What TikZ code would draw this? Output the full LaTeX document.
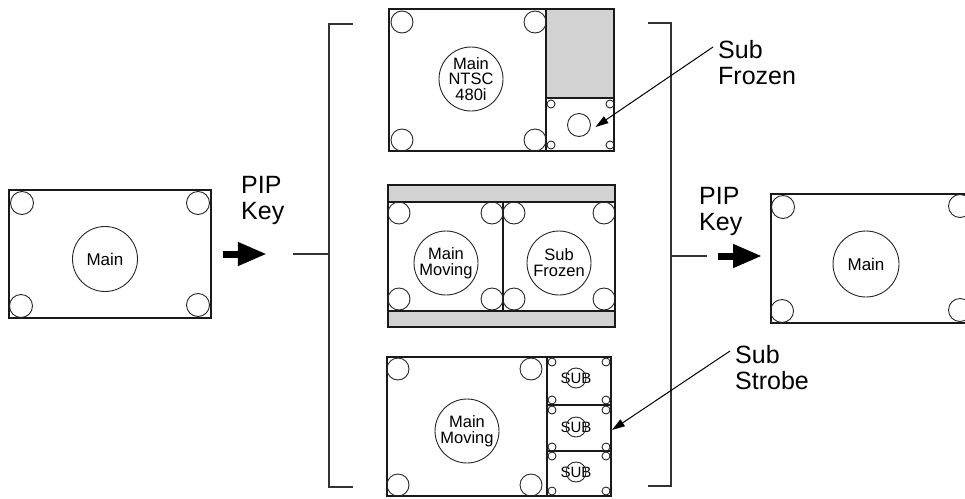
\documentclass[tikz,border=0pt]{standalone}
\usepackage{fontspec}
\setmainfont{Liberation Sans}
\usetikzlibrary{arrows.meta, positioning}

\tikzset{
  frame/.style={draw=black!90, line width=1.8pt},
  eye/.style={draw=black!85, line width=0.9pt},
  band/.style={frame, fill=gray!35},
  screen/.style={frame, minimum width=202pt, minimum height=128pt, inner sep=0pt},
  rowbox/.style={frame, minimum width=64pt, inner sep=0pt},
  disc/.style={circle, draw=black!85, line width=0.9pt, inner sep=0pt, minimum size=64pt,
    align=center, font=\fontsize{16.5}{16}\selectfont},
  keyarrow/.style={line width=7pt, -{Triangle[length=29pt, width=22pt]}},
  pointer/.style={line width=1pt, -{Triangle[length=13pt, width=8pt]}},
  bracket/.style={draw=black!80, line width=1.3pt},
  callout/.style={inner sep=0pt, anchor=north west, align=left, font=\fontsize{25}{26}\selectfont},
  subtag/.style={inner sep=0pt, font=\fontsize{15}{15}\selectfont},
}

\begin{document}
\begin{tikzpicture}[x=1pt, y=-1pt]
  \useasboundingbox (0,0) rectangle (965,498);
  % left screen
  \node[screen] (scrL) at (110,254) {};
  \foreach \cx/\cy in {22/203, 198/203, 21/306, 198/305}
    \draw[eye] (\cx,\cy) circle (11.5);
  \node[disc, minimum size=65pt, font=\fontsize{17}{17}\selectfont] (mainL) at (105,259) {Main};
  \node[callout] (keyL) at (241,176) {PIP\\Key};
  \draw[keyarrow] ([xshift=11pt]scrL.east) -- ([xshift=55pt]scrL.east);
  % left bracket
  \draw[bracket] (353,24) -- (329,24) -- (329,487) -- (353,487);
  \draw[bracket] (293,254) -- (329,254);

  % top panel: NTSC main, frozen sub
  \draw[band] (546,9) rectangle (614,98);
  \draw[frame] (389,9) rectangle (614,151);
  \draw[frame] (546,9) -- (546,151);
  \draw[frame] (546,98) -- (614,98);
  \foreach \cx/\cy in {402/22, 535/22, 402/140, 535/140}
    \draw[eye] (\cx,\cy) circle (11);
  \node[disc, font=\fontsize{16.5}{15.5}\selectfont] (ntsc) at (471,79) {Main\\NTSC\\480i};
  \foreach \cx/\cy in {551/104, 610/104, 551/145, 610/145}
    \draw[eye] (\cx,\cy) circle (4);
  \node[circle, eye, minimum size=23pt, inner sep=0pt] (frzsub) at (579,125) {};

  % middle panel: side by side
  \draw[band] (388,185) rectangle (615,202);
  \draw[band] (388,311) rectangle (615,327);
  \draw[frame] (388,185) rectangle (615,327);
  \draw[frame] (503,202) -- (503,311);
  \foreach \cx/\cy in {399/213, 492/213, 399/299, 492/299, 514/213, 604/213, 514/299, 604/299}
    \draw[eye] (\cx,\cy) circle (11);
  \node[disc] (moveA) at (446,263) {Main\\Moving};
  \node[disc] (frzB) at (559,263) {Sub\\Frozen};

  % bottom panel: strobe
  \draw[frame] (387,357) rectangle (547,496);
  \foreach \n/\cy/\h in {1/381/48, 2/428/46, 3/473.5/45}
    \node[rowbox, minimum height=\h] (row\n) at (579,\cy) {};
  \foreach \cy in {362, 400, 410, 447, 456, 491}
    \foreach \cx in {552, 606}
      \draw[eye] (\cx,\cy) circle (4);
  \foreach \n/\cy in {1/378, 2/427, 3/472}{
    \node[subtag] (sub\n) at (576,\cy) {SUB};
    \draw[eye] (sub\n.center) circle (10);
  }
  \foreach \cx/\cy in {398/369, 531/369, 398/485, 531/485}
    \draw[eye] (\cx,\cy) circle (11);
  \node[disc] (moveC) at (467,431) {Main\\Moving};

  % right bracket
  \draw[bracket] (648,23) -- (671,23) -- (671,486) -- (648,486);
  \draw[bracket] (671,256) -- (707,256);

  % right screen
  \node[screen, minimum height=129pt] (scrR) at (872,258.5) {};
  \foreach \cx/\cy in {783/207, 960/206, 782/311, 960/310}
    \draw[eye] (\cx,\cy) circle (11.5);
  \node[disc, minimum size=66pt, font=\fontsize{17}{17}\selectfont] (mainR) at (866,264) {Main};
  \node[callout] (keyR) at (699,187) {PIP\\Key};
  \draw[keyarrow] ([xshift=-52pt, yshift=2.5pt]scrR.west) -- ([xshift=-8pt, yshift=2.5pt]scrR.west);

  % callouts
  \node[callout] (frozen) at (718,40) {Sub\\Frozen};
  \draw[pointer] ([xshift=-5pt, yshift=-7pt]frozen.north west) -- ([xshift=4.5pt, yshift=-2pt]frzsub.east);
  \node[callout] (strobe) at (735,345) {Sub\\Strobe};
  \draw[pointer] ([xshift=-5pt, yshift=-6pt]strobe.north west) -- ([yshift=-2pt]row2.east);
\end{tikzpicture}
\end{document}
